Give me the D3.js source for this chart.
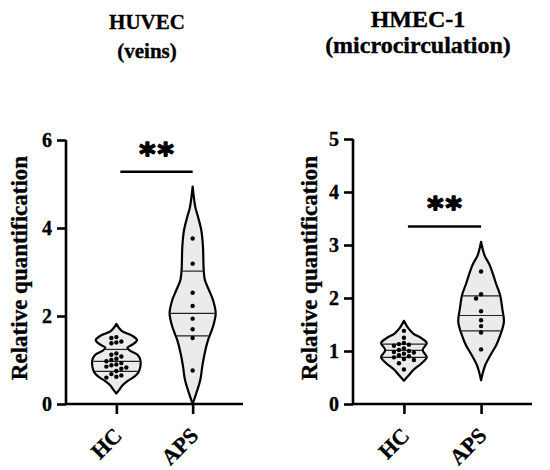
<!DOCTYPE html>
<html>
<head>
<meta charset="utf-8">
<script src="https://cdn.jsdelivr.net/npm/d3@7"></script>
<style>
  body { margin: 0; background: #fff; }
</style>
</head>
<body>
<svg id="chart" width="550" height="470"></svg>
<script>
const SERIF = "'Liberation Serif', 'DejaVu Serif', 'Times New Roman', serif";
const groups = ["HC", "APS"];

// HUVEC (veins)
const huvecTicks = [0, 2, 4, 6];
const huvecHC  = [1.52, 1.50, 1.42, 1.40, 1.38, 1.15, 1.12, 1.08, 1.03, 1.00, 0.97,
                  0.93, 0.90, 0.88, 0.85, 0.83, 0.80, 0.75, 0.68, 0.65, 0.62, 0.60];
const huvecAPS = [3.76, 3.19, 2.53, 2.23, 1.94, 1.70, 1.50, 0.76];
const huvecHCQuart  = [0.74, 0.97, 1.24];
const huvecAPSQuart = [1.55, 2.06, 3.02];
// violin outline: [value, relative density]
const huvecHCShape = [[0.24,0],[0.32,0.12],[0.42,0.25],[0.52,0.46],[0.62,0.75],[0.72,0.92],
  [0.85,1.0],[1.0,1.0],[1.12,0.88],[1.22,0.55],[1.28,0.46],[1.36,0.7],[1.45,0.86],
  [1.55,0.67],[1.65,0.25],[1.72,0.12],[1.82,0]];
const huvecAPSShape = [[0.0,0],[0.24,0.15],[0.55,0.32],[0.85,0.4],[1.15,0.5],[1.45,0.64],
  [1.76,0.85],[2.06,0.96],[2.36,0.85],[2.59,0.68],[2.82,0.51],[3.05,0.46],[3.58,0.43],
  [3.95,0.36],[4.26,0.22],[4.48,0.11],[4.94,0]];

// HMEC-1 (microcirculation)
const hmecTicks = [0, 1, 2, 3, 4, 5];
const hmecHC  = [1.38, 1.25, 1.15, 1.13, 1.12, 1.10, 1.05, 1.02, 1.00, 0.98,
                 0.97, 0.95, 0.92, 0.90, 0.88, 0.85, 0.83, 0.77, 0.65];
const hmecAPS = [2.50, 2.07, 1.99, 1.75, 1.58, 1.47, 1.35, 1.03];
const hmecHCQuart  = [0.88, 1.01, 1.13];
const hmecAPSQuart = [1.38, 1.67, 2.04];
const hmecHCShape = [[0.44,0],[0.55,0.22],[0.64,0.39],[0.77,0.74],[0.88,0.95],[1.02,0.78],
  [1.15,0.95],[1.24,0.74],[1.33,0.39],[1.43,0.18],[1.57,0]];
const hmecAPSShape = [[0.45,0],[0.6,0.08],[0.74,0.18],[0.93,0.4],[1.11,0.63],[1.3,0.8],
  [1.55,0.95],[1.81,0.88],[2.06,0.79],[2.25,0.64],[2.43,0.51],[2.62,0.36],[2.81,0.14],[3.06,0]];

const panels = [
  { title: ["HUVEC", "(veins)"], titleSize: 21, titleX: 147, titleY: [29, 58],
    left: 66, right: 243, top: 140, ymax: 6, ticks: huvecTicks, labelX: 27,
    values: [huvecHC, huvecAPS], quarts: [huvecHCQuart, huvecAPSQuart],
    shapes: [huvecHCShape, huvecAPSShape], sig: 5.28 },
  { title: ["HMEC-1", "(microcirculation)"], titleSize: 24, titleX: 418, titleY: [27, 53],
    left: 353, right: 532, top: 139, ymax: 5, ticks: hmecTicks, labelX: 317,
    values: [hmecHC, hmecAPS], quarts: [hmecHCQuart, hmecAPSQuart],
    shapes: [hmecHCShape, hmecAPSShape], sig: 3.35 }
];

const BOTTOM = 404;
const svg = d3.select("#chart");

function serifText(sel, size) {
  return sel.attr("font-family", SERIF)
    .attr("font-weight", "bold")
    .attr("font-size", size)
    .attr("fill", "#000")
    .attr("stroke", "#000")
    .attr("stroke-width", 0.35);
}

panels.forEach(p => {
  const g = svg.append("g");
  const x = d3.scalePoint().domain(groups).range([p.left, p.right]).padding(0.66);
  const y = d3.scaleLinear().domain([0, p.ymax]).range([BOTTOM, p.top]);
  const w = d3.scaleLinear().domain([0, 1]).range([0, 24]);

  // titles
  g.selectAll(".title")
    .data(p.title)
    .join("text")
      .attr("x", p.titleX)
      .attr("y", (d, i) => p.titleY[i])
      .attr("text-anchor", "middle")
      .call(serifText, p.titleSize)
      .text(d => d);

  // violins
  groups.forEach((grp, gi) => {
    const cx = x(grp);
    const shape = p.shapes[gi];
    const area = d3.area()
      .y(d => y(d[0]))
      .x0(d => cx - w(d[1]))
      .x1(d => cx + w(d[1]))
      .curve(d3.curveCatmullRom.alpha(0.5));
    g.append("path")
      .attr("d", area(shape))
      .attr("fill", "#ebebeb")
      .attr("stroke", "#000")
      .attr("stroke-width", 2.2)
      .attr("stroke-linejoin", "round");

    const widthAt = d3.scaleLinear().domain(shape.map(d => d[0])).range(shape.map(d => d[1]));
    g.selectAll(".q" + gi)
      .data(p.quarts[gi])
      .join("line")
        .attr("x1", d => cx - w(widthAt(d)) + 1)
        .attr("x2", d => cx + w(widthAt(d)) - 1)
        .attr("y1", d => y(d))
        .attr("y2", d => y(d))
        .attr("stroke", "#222")
        .attr("stroke-width", 1.2);

    // dots, spread sideways so they do not overlap
    const r = 2.2;
    const placed = [];
    const vals = p.values[gi].slice().sort((a, b) => b - a);
    vals.forEach(v => {
      const py = y(v);
      const offs = [0, -5, 5, -10, 10, -15, 15];
      let ox = 0;
      for (const o of offs) {
        if (placed.every(q => Math.hypot(q.x - (cx + o), q.y - py) > 2 * r + 0.6)) { ox = o; break; }
      }
      placed.push({ x: cx + ox, y: py });
    });
    g.selectAll(".dot" + gi)
      .data(placed)
      .join("circle")
        .attr("cx", d => d.x)
        .attr("cy", d => d.y)
        .attr("r", r)
        .attr("fill", "#000");
  });

  // y axis
  const yAxis = g.append("g")
    .attr("transform", `translate(${p.left},0)`)
    .call(d3.axisLeft(y).tickValues(p.ticks).tickFormat(d3.format("d")).tickSize(9).tickPadding(5));
  // x axis
  const xAxis = g.append("g")
    .attr("transform", `translate(0,${BOTTOM})`)
    .call(d3.axisBottom(x).tickSize(10).tickFormat(""));
  [yAxis, xAxis].forEach(a => {
    a.select(".domain").attr("stroke", "#000").attr("stroke-width", 2.6)
      .attr("d", a === yAxis ? `M0,${BOTTOM}V${p.top}` : `M${p.left},0H${p.right}`);
    a.selectAll(".tick line").attr("stroke", "#000").attr("stroke-width", 2.6);
  });
  yAxis.attr("font-family", SERIF).attr("font-size", 20);
  yAxis.selectAll(".tick text").call(serifText, 20);

  g.selectAll(".xlab")
    .data(groups)
    .join("text")
      .attr("transform", d => `translate(${x(d) - 4},${BOTTOM + 22}) rotate(-45)`)
      .attr("text-anchor", "end")
      .attr("dy", "0.7em")
      .call(serifText, 22)
      .text(d => d);

  // y label
  g.append("text")
    .attr("transform", `translate(${p.labelX},268) rotate(-90)`)
    .attr("text-anchor", "middle")
    .call(serifText, 23)
    .text("Relative quantification");

  // significance bar
  const sy = y(p.sig);
  g.append("line")
    .attr("x1", x("HC") + 4)
    .attr("x2", x("APS"))
    .attr("y1", sy)
    .attr("y2", sy)
    .attr("stroke", "#000")
    .attr("stroke-width", 2.6);
  g.append("text")
    .attr("x", (x("HC") + x("APS")) / 2 + 3)
    .attr("y", sy - 8)
    .attr("text-anchor", "middle")
    .attr("font-family", "'DejaVu Sans', sans-serif")
    .attr("font-weight", "bold")
    .attr("font-size", 31)
    .attr("letter-spacing", 2)
    .attr("stroke", "#000")
    .attr("stroke-width", 1.6)
    .attr("stroke-linejoin", "round")
    .text("**");
});
</script>
</body>
</html>
